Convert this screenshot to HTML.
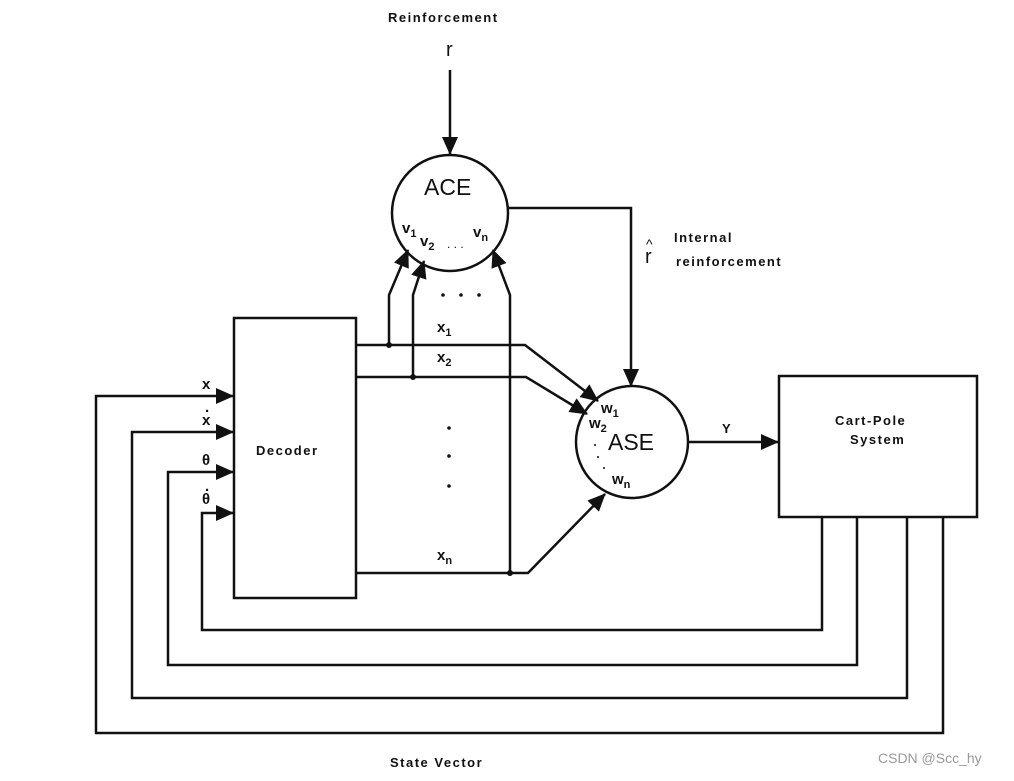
<!DOCTYPE html>
<html><head><style>
body{margin:0;background:#fff;width:1014px;height:776px;overflow:hidden}
text{font-family:"Liberation Sans",sans-serif;fill:#111}
.b{font-weight:bold;font-size:13px;letter-spacing:1.5px}
.v{font-weight:bold;font-size:15px}
</style></head><body>
<svg width="1014" height="776" viewBox="0 0 1014 776">
<defs>
<marker id="A" markerWidth="18" markerHeight="16" refX="17" refY="8" orient="auto" markerUnits="userSpaceOnUse"><path d="M0,0 L18,8 L0,16 z" fill="#111"/></marker></defs>
<g stroke="#111" stroke-width="2.5" fill="none">
<rect x="234" y="318" width="122" height="280"/>
<rect x="779" y="376" width="198" height="141"/>
<circle cx="450" cy="213" r="58"/>
<circle cx="632" cy="442" r="56"/>
<line x1="450" y1="70" x2="450" y2="154" marker-end="url(#A)"/>
<polyline points="508,208 631,208 631,386" marker-end="url(#A)"/>
<line x1="688" y1="442" x2="778" y2="442" marker-end="url(#A)"/>
<polyline points="356,345 525,345 598,401" marker-end="url(#A)"/>
<polyline points="356,377 526,377 587,414" marker-end="url(#A)"/>
<polyline points="356,573 528,573 605,494" marker-end="url(#A)"/>
<polyline points="389,345 389,295 408,250" marker-end="url(#A)"/>
<polyline points="413,377 413,295 424,261" marker-end="url(#A)"/>
<polyline points="510,573 510,295 493,250" marker-end="url(#A)"/>
<polyline points="822,517 822,630 202,630 202,513 233,513" marker-end="url(#A)"/>
<polyline points="857,517 857,665 168,665 168,472 233,472" marker-end="url(#A)"/>
<polyline points="907,517 907,698 132,698 132,432 233,432" marker-end="url(#A)"/>
<polyline points="943,517 943,733 96,733 96,396 233,396" marker-end="url(#A)"/>
</g>
<g fill="#111"><circle cx="389" cy="345" r="3"/><circle cx="413" cy="377" r="3"/><circle cx="510" cy="573" r="3"/>
<circle cx="443" cy="295" r="1.8"/><circle cx="461" cy="295" r="1.8"/><circle cx="479" cy="295" r="1.8"/>
<circle cx="449" cy="428" r="1.8"/><circle cx="449" cy="456" r="1.8"/><circle cx="449" cy="486" r="1.8"/>
<circle cx="595" cy="445" r="1"/><circle cx="598" cy="457" r="1"/><circle cx="604" cy="468" r="1"/></g>
<text x="388" y="22" class="b" font-size="12">Reinforcement</text>
<text x="446" y="56" font-size="20">r</text>
<text x="424" y="195" font-size="23">ACE</text>
<text x="608" y="450" font-size="23">ASE</text>
<text x="402" y="233" class="v">v<tspan font-size="11" dy="4">1</tspan></text>
<text x="420" y="246" class="v">v<tspan font-size="11" dy="4">2</tspan></text>
<text x="447" y="248" font-size="12">. . .</text>
<text x="473" y="237" class="v">v<tspan font-size="11" dy="4">n</tspan></text>
<text x="601" y="413" class="v">w<tspan font-size="11" dy="4">1</tspan></text>
<text x="589" y="428" class="v">w<tspan font-size="11" dy="4">2</tspan></text>
<text x="612" y="484" class="v">w<tspan font-size="11" dy="4">n</tspan></text>
<text x="437" y="332" class="v">x<tspan font-size="11" dy="4">1</tspan></text>
<text x="437" y="362" class="v">x<tspan font-size="11" dy="4">2</tspan></text>
<text x="437" y="560" class="v">x<tspan font-size="11" dy="4">n</tspan></text>
<text x="256" y="455" class="b">Decoder</text>
<text x="722" y="433" class="b" font-size="12">Y</text>
<text x="835" y="425" class="b">Cart-Pole</text>
<text x="850" y="444" class="b">System</text>
<text x="674" y="242" class="b">Internal</text>
<text x="676" y="266" class="b">reinforcement</text>
<text x="645" y="263" font-size="20">r</text><text x="646" y="249" font-size="14">^</text>
<text x="202" y="389" class="v">x</text>
<text x="202" y="425" class="v">x</text><text x="205" y="412" class="v">.</text>
<text x="202" y="465" class="v">θ</text>
<text x="202" y="504" class="v">θ</text><text x="205" y="491" class="v">.</text>
<text x="390" y="767" class="b">State Vector</text>
<text x="878" y="763" font-size="14" style="fill:#999">CSDN @Scc_hy</text>
</svg>
</body></html>
